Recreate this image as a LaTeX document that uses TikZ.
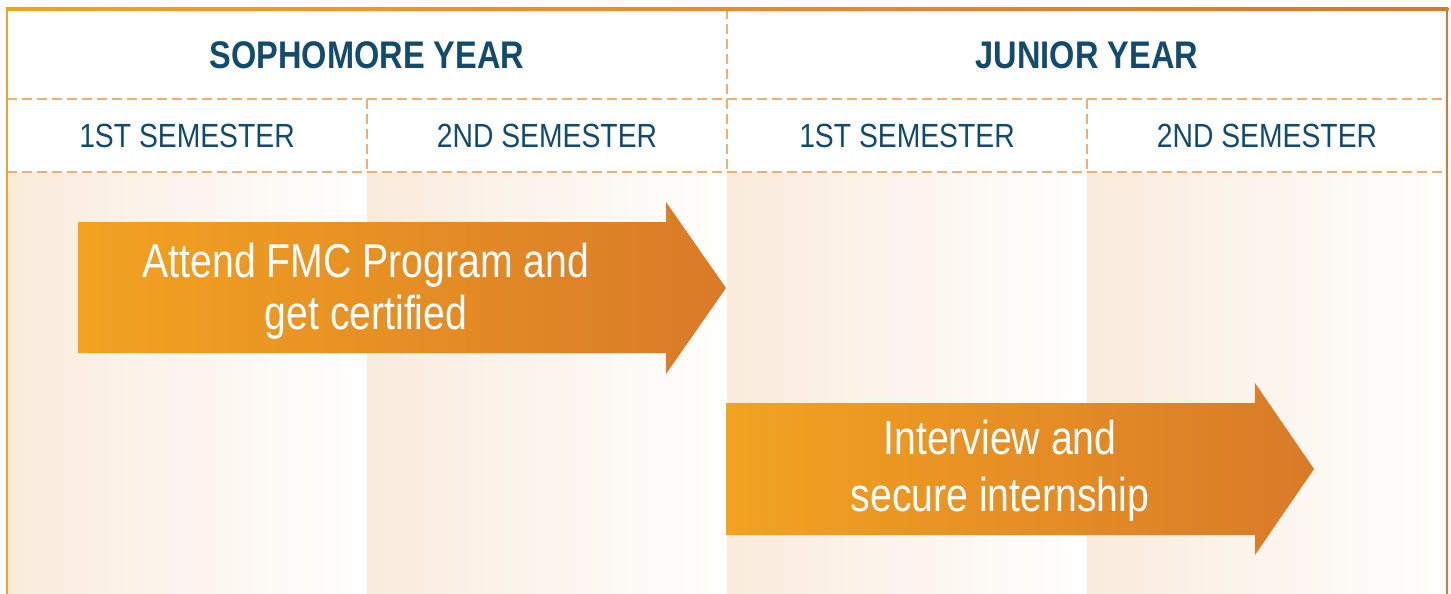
\documentclass[tikz,border=0pt]{standalone}
\usepackage{fontspec}
\setmainfont{Liberation Sans}[FakeStretch=0.845]
\newfontfamily\arrowfont{Liberation Sans}[FakeStretch=0.825]
\usetikzlibrary{positioning}
\definecolor{headblue}{HTML}{134B6E}
\definecolor{dashorange}{HTML}{EFAE76}
\definecolor{peach}{HTML}{FAEBDC}
\definecolor{lightorange}{HTML}{F2A321}
\definecolor{darkorange}{HTML}{D97A28}

\begin{document}
\begin{tikzpicture}[x=1pt,y=-1pt,
    gridline/.style={draw=dashorange, line width=2.8pt, dash pattern=on 10pt off 5pt},
    yearlabel/.style={text=headblue, font=\bfseries\fontsize{38.5}{44}\selectfont},
    semlabel/.style={text=headblue, font=\fontsize{33.5}{38}\selectfont},
    arrowlabel/.style={text=white, align=center},
    arrowfill/.style={left color=lightorange, right color=darkorange}]
  \useasboundingbox[fill=white] (0,0) rectangle (1451,594);

  % column shading
  \foreach \x in {7,367,727,1087}
    \shade[left color=peach, right color=white] (\x,172) rectangle ++(360,422);

  % grid
  \draw[gridline] (7,99) -- (1447,99);
  \draw[gridline] (7,172) -- (1447,172);
  \draw[gridline] (727,9) -- (727,172);
  \draw[gridline] (367,99) -- (367,172);
  \draw[gridline] (1087,99) -- (1087,172);

  % frame
  \draw[lightorange, line width=2.5pt] (7,9) -- (7,594);
  \draw[darkorange, line width=2.5pt] (1447,9) -- (1447,594);
  \shade[left color=lightorange, right color=darkorange] (5.75,7.75) rectangle (1448.25,10.25);

  % headers
  \node[yearlabel] (soph) at (367,55) {SOPHOMORE YEAR};
  \node[yearlabel] (junior) at (1087,55) {JUNIOR YEAR};
  \node[semlabel] (soph1) at (187,136) {1ST SEMESTER};
  \node[semlabel] (soph2) at (547,136) {2ND SEMESTER};
  \node[semlabel] (jun1) at (907,136) {1ST SEMESTER};
  \node[semlabel] (jun2) at (1267,136) {2ND SEMESTER};

  % arrows
  \shade[arrowfill] (78,222) -- (666,222) -- (666,202) -- (726,288)
    -- (666,374) -- (666,353) -- (78,353) -- cycle;
  \node[arrowlabel, font=\arrowfont\fontsize{47.5}{52}\selectfont]
    (fmc) at (366,291) {Attend FMC Program and\\get certified};

  \shade[arrowfill] (726,403) -- (1255,403) -- (1255,383) -- (1314,469)
    -- (1255,555) -- (1255,535) -- (726,535) -- cycle;
  \node[arrowlabel, font=\arrowfont\fontsize{47.5}{57}\selectfont]
    (intern) at (1000,471) {Interview and\\secure internship};
\end{tikzpicture}
\end{document}
